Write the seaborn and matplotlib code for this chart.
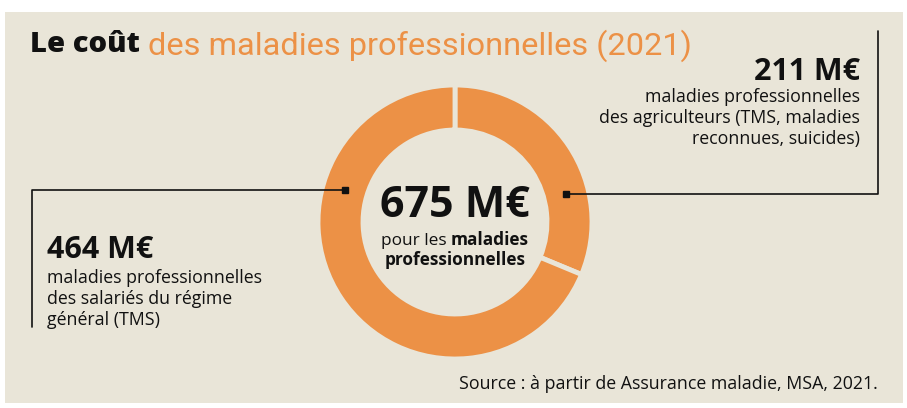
import matplotlib
matplotlib.use("Agg")
import matplotlib.pyplot as plt
import matplotlib.patches as mpatches
import numpy as np
import seaborn as sns

# ---- data ----
categories = ["agriculteurs", "salariés du régime général"]
values = [211, 464]
value_labels = ["211 M€", "464 M€"]
total_label = "675 M€"
desc_right = ["maladies professionnelles", "des agriculteurs (TMS, maladies", "reconnues, suicides)"]
desc_left = ["maladies professionnelles", "des salariés du régime", "général (TMS)"]
title_black = "Le coût"
title_orange = "des maladies professionnelles (2021)"
source = "Source : à partir de Assurance maladie, MSA, 2021."

sns.set_theme(style="white")
BODY = "Open Sans"
plt.rcParams['font.family'] = [BODY, 'DejaVu Sans']

W, H = 907, 408
BG = "#E9E5D8"
ORANGE = "#EC9146"
INK = "#111111"
FS_BODY = 12.8
FS_NUM = 22

fig = plt.figure(figsize=(W / 100, H / 100), dpi=100, facecolor="white")
ax = fig.add_axes([0, 0, 1, 1])


def Y(py):
    return H - py


ax.add_patch(mpatches.Rectangle((5, Y(403)), 898, 391, facecolor=BG,
                                edgecolor='none', zorder=0))

cx, cy = 455, 222
R_out, R_in = 137, 92
palette = sns.color_palette([ORANGE, ORANGE])
wedges, _ = ax.pie(values, colors=palette, startangle=90, counterclock=False,
                   center=(cx, Y(cy)), radius=R_out, frame=True,
                   wedgeprops=dict(width=R_out - R_in, edgecolor=BG, linewidth=3.5))
ax.set_xlim(0, W)
ax.set_ylim(0, H)
ax.axis('off')

Rm = (R_out + R_in) / 2
# right connector (agriculteurs)
a = np.deg2rad(14)
mx, my = cx + Rm * np.cos(a), Y(cy) + Rm * np.sin(a)
ax.plot([mx, 878, 878], [my, my, Y(31)], color=INK, lw=1.2, zorder=3)
ax.plot(mx, my, 's', ms=5, color=INK, zorder=4)
# left connector (salariés)
a = np.deg2rad(164)
mx, my = cx + Rm * np.cos(a), Y(cy) + Rm * np.sin(a)
ax.plot([mx, 32, 32], [my, my, Y(327)], color=INK, lw=1.2, zorder=3)
ax.plot(mx, my, 's', ms=5, color=INK, zorder=4)

# title
tb = ax.text(30, Y(45), title_black, fontsize=21, fontweight='heavy', color=INK, va='center')
to = ax.text(148, Y(46), title_orange, fontsize=23.4, color=ORANGE, va='center',
             family=['Roboto', 'DejaVu Sans'])

# right annotation
ax.text(860, Y(72), value_labels[0], fontsize=FS_NUM, fontweight='bold', color=INK,
        ha='right', va='center')
for i, line in enumerate(desc_right):
    ax.text(860, Y(97 + 21 * i), line, fontsize=FS_BODY, color=INK, ha='right', va='center')

# left annotation
ax.text(47, Y(250), value_labels[1], fontsize=FS_NUM, fontweight='bold', color=INK,
        ha='left', va='center')
for i, line in enumerate(desc_left):
    ax.text(47, Y(278 + 21 * i), line, fontsize=FS_BODY, color=INK, ha='left', va='center')

# center
ax.text(cx, Y(217), total_label, fontsize=31, fontweight='bold', color=INK,
        ha='center', va='baseline')
t1 = ax.text(0, Y(245), "pour les", fontsize=12.4, color=INK, ha='left', va='baseline')
t2 = ax.text(0, Y(245), "maladies", fontsize=12.4, fontweight='bold', color=INK,
             ha='left', va='baseline')
fig.canvas.draw()
r = fig.canvas.get_renderer()
w1 = t1.get_window_extent(r).width
w2 = t2.get_window_extent(r).width
gap = 4
x0 = cx - (w1 + gap + w2) / 2
t1.set_x(x0)
t2.set_x(x0 + w1 + gap)
# place orange title right after the black part
tb_ext = tb.get_window_extent(r)
to.set_x(tb_ext.x1 + 8)
ax.text(cx, Y(265), "professionnelles", fontsize=12.4, fontweight='bold', color=INK,
        ha='center', va='baseline')

ax.text(878, Y(384), source, fontsize=FS_BODY, color=INK, ha='right', va='center')

fig.savefig("out.png", dpi=100, facecolor="white")
